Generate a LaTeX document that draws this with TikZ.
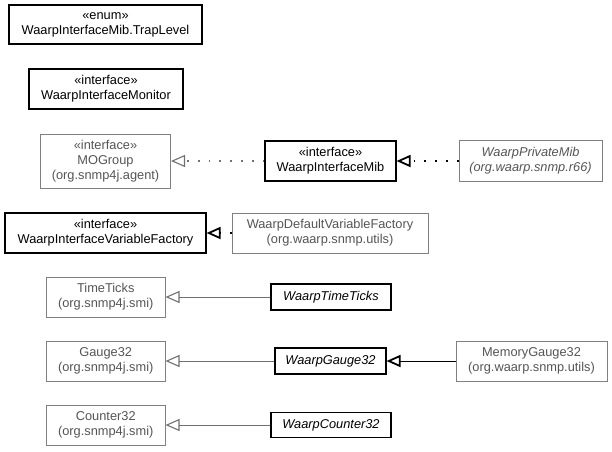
\documentclass[tikz,border=0pt]{standalone}
\usepackage{fontspec}
\setmainfont{Liberation Sans}
\usetikzlibrary{arrows.meta}
\definecolor{extborder}{HTML}{808080}
\definecolor{exttext}{HTML}{555555}
\definecolor{extline}{HTML}{707070}
\tikzset{
  cls/.style={draw=black, line width=1.1pt, inner sep=0pt, align=center, text=black, fill=white},
  ext/.style={draw=extborder, line width=1pt, inner sep=0pt, align=center, text=exttext, fill=white},
  sz/.style n args={2}{minimum width=#1pt, minimum height=#2pt},
  genblack/.style={draw=black, line width=0.9pt, -{Triangle[open, length=14pt, width=12pt, line width=1.8pt]}},
  gengray/.style={draw=extline, line width=0.9pt, -{Triangle[open, length=14pt, width=12pt, line width=1.1pt]}},
  dotline/.style={dash pattern=on 1.8pt off 9pt, line width=1.6pt},
}
\begin{document}
\begin{tikzpicture}[x=1pt, y=-1pt, font=\fontsize{12.8}{15}\selectfont]
\useasboundingbox (0,0) rectangle (612,451);
% left column
\node[cls, sz={193}{39}] (trap) at (105.5,24.5) {«enum»\\WaarpInterfaceMib.TrapLevel};
\node[cls, sz={154}{40}] (monitor) at (106,89) {«interface»\\WaarpInterfaceMonitor};
\node[ext, sz={130}{54}] (mogroup) at (105.5,161) {«interface»\\MOGroup\\(org.snmp4j.agent)};
\node[cls, sz={201}{40}] (vfac) at (105.5,233) {«interface»\\WaarpInterfaceVariableFactory};
\node[ext, sz={118.5}{40}] (timeticks) at (105.75,297) {TimeTicks\\(org.snmp4j.smi)};
\node[ext, sz={118.5}{40}] (gauge) at (105.75,361) {Gauge32\\(org.snmp4j.smi)};
\node[ext, sz={118.5}{40}] (counter) at (105.75,425) {Counter32\\(org.snmp4j.smi)};
% middle column
\node[cls, sz={131}{40}] (imib) at (330.5,161) {«interface»\\WaarpInterfaceMib};
\node[ext, sz={196}{40}] (dvfac) at (330,233) {WaarpDefaultVariableFactory\\(org.waarp.snmp.utils)};
\node[cls, sz={120}{26}, font=\fontsize{12.8}{15}\selectfont\itshape] (wtt) at (331,297) {WaarpTimeTicks};
\node[cls, sz={111}{26}, font=\fontsize{12.8}{15}\selectfont\itshape] (wg) at (330.5,361) {WaarpGauge32};
\node[cls, sz={120}{25}, font=\fontsize{12.8}{15}\selectfont\itshape] (wc) at (331,425) {WaarpCounter32};
% right column
\node[ext, sz={143}{41}, font=\fontsize{12.8}{15}\selectfont\itshape] (pmib) at (530.5,161) {WaarpPrivateMib\\(org.waarp.snmp.r66)};
\node[ext, sz={151}{40}] (mgauge) at (531.5,361) {MemoryGauge32\\(org.waarp.snmp.utils)};
% edges
\draw[gengray, dotline] (imib.west) -- (mogroup.east);
\draw[genblack, dotline] (pmib.west) -- (imib.east);
\draw[genblack, dotline] (dvfac.west) -- (vfac.east);
\draw[gengray] (wtt.west) -- (timeticks.east);
\draw[gengray] (wg.west) -- (gauge.east);
\draw[genblack] (mgauge.west) -- (wg.east);
\draw[gengray] (wc.west) -- (counter.east);
\end{tikzpicture}
\end{document}
